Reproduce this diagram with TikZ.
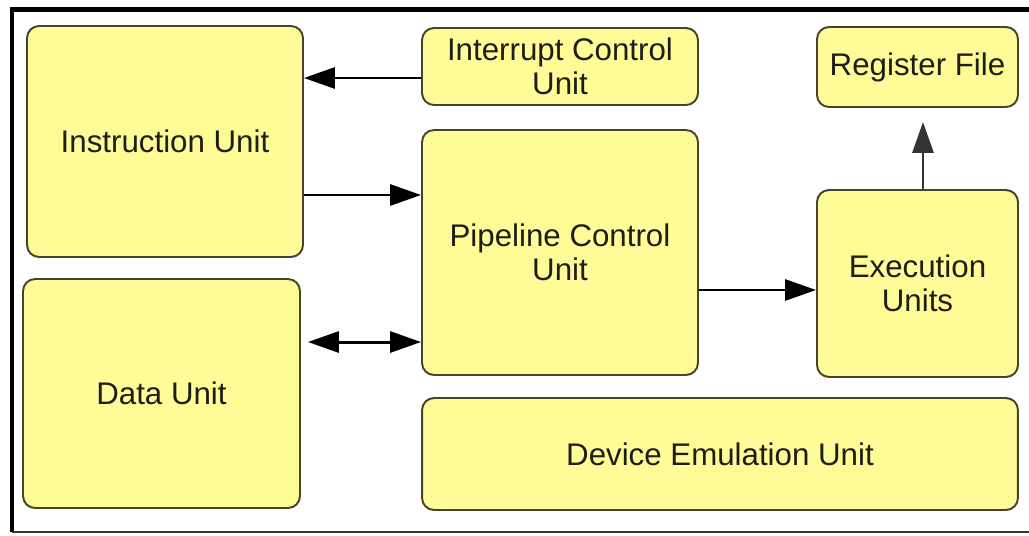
\documentclass[tikz,border=0pt]{standalone}
\usepackage{fontspec}
\setmainfont{Liberation Sans}
\usepackage{xcolor}
\usetikzlibrary{arrows.meta}

\definecolor{unitfill}{RGB}{255,251,150}
\definecolor{unitdraw}{RGB}{70,68,45}
\definecolor{unittext}{RGB}{30,30,25}

\begin{document}
\begin{tikzpicture}[x=0.02cm,y=-0.02cm,>={Triangle[length=0.62cm,width=0.42cm]},
    unit/.style={draw=unitdraw,line width=1.1pt,fill=unitfill,rounded corners=0.24cm,
      align=center,text=unittext,inner sep=0pt,font=\fontsize{17.8}{19.4}\selectfont},
    flow/.style={line width=1.7pt,black}]
    % \draw[step=50,gray!30] (0,0) grid (1029,535);
    \useasboundingbox (0,0) rectangle (1029,535);

    % frame
    \draw[line width=2.8pt] (1029,9.5) -- (12,9.5) -- (12,532);
    \draw[line width=1.1pt,black!80] (12,532) -- (1029,532);

    \node[unit,minimum width=5.52cm,minimum height=4.62cm] (instr) at (165,141.5) {Instruction Unit};
    \node[unit,minimum width=5.54cm,minimum height=4.58cm] (data) at (161.5,393.5) {Data Unit};

    \node[unit,minimum width=5.52cm,minimum height=1.54cm] (intr) at (560,66.5) {Interrupt Control\\Unit};
    \node[unit,minimum width=5.52cm,minimum height=4.9cm] (pipe) at (560,252.5) {Pipeline Control\\Unit};

    \node[unit,minimum width=4.02cm,minimum height=1.6cm] (reg) at (917.5,67) {Register File};
    \node[unit,minimum width=4.02cm,minimum height=3.74cm] (exec) at (917.5,283.5) {Execution\\Units};

    \node[unit,minimum width=11.92cm,minimum height=2.24cm] (dev) at (720,454) {Device Emulation Unit};

    \draw[flow,->] ([yshift=-0.23cm]intr.west) -- ([yshift=-0.23cm]intr.west -| instr.east);
    \draw[flow,->] ([yshift=-1.07cm]instr.east) -- ([yshift=-1.07cm]instr.east -| pipe.west);
    \draw[flow,<->] ([xshift=0.14cm,yshift=1.03cm]data.east) -- ([yshift=1.03cm]data.east -| pipe.west);
    \draw[flow,->] ([yshift=-0.75cm]pipe.east) -- ([yshift=-0.75cm]pipe.east -| exec.west);
    \draw[flow,->,black!80,shorten >=0.28cm] ([xshift=0.11cm]exec.north) -- ([xshift=0.11cm]exec.north |- reg.south);
  \end{tikzpicture}
\end{document}
